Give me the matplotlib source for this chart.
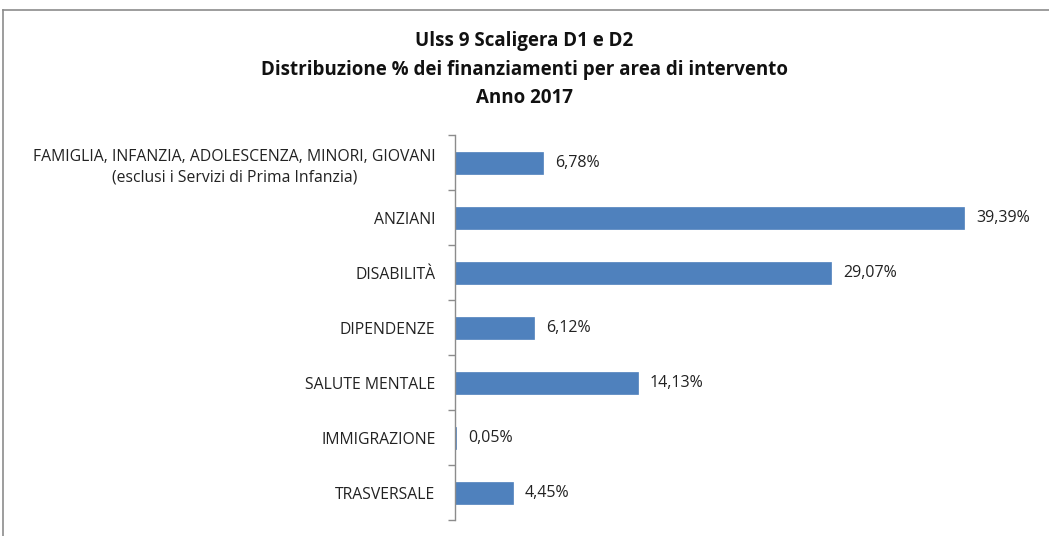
import matplotlib
matplotlib.use("Agg")
import matplotlib.pyplot as plt
from matplotlib.lines import Line2D

categories = [
    "FAMIGLIA, INFANZIA, ADOLESCENZA, MINORI, GIOVANI\n(esclusi i Servizi di Prima Infanzia)",
    "ANZIANI",
    "DISABILITÀ",
    "DIPENDENZE",
    "SALUTE MENTALE",
    "IMMIGRAZIONE",
    "TRASVERSALE",
]
values = [6.78, 39.39, 29.07, 6.12, 14.13, 0.05, 4.45]
title_lines = ["Ulss 9 Scaligera D1 e D2",
               "Distribuzione % dei finanziamenti per area di intervento",
               "Anno 2017"]

plt.rcParams['font.family'] = ['Open Sans', 'DejaVu Sans']

W, H = 1049, 536
fig = plt.figure(figsize=(W / 100, H / 100), dpi=100)
fig.patch.set_facecolor("white")

# outer chart border
fig.add_artist(Line2D([3 / W, 3 / W], [0, 1 - 10 / H], color="#8c8c8c", lw=1.2, transform=fig.transFigure))
fig.add_artist(Line2D([3 / W, 1], [1 - 10 / H, 1 - 10 / H], color="#8c8c8c", lw=1.2, transform=fig.transFigure))

left = 455 / W
bottom = 1 - 520 / H
top = 1 - 135 / H
ax = fig.add_axes([left, bottom, 998 / W - left, top - bottom])

n = len(categories)
ypos = list(range(n))
ax.barh(ypos, values, height=0.4, color="#4F81BD", edgecolor="#4F81BD", linewidth=0.5)
ax.set_ylim(n - 0.5, -0.5)
ax.set_xlim(0, 42)

for y, v in zip(ypos, values):
    ax.text(v + 0.95, y, f"{v:.2f}%".replace(".", ","), va="center", ha="left", fontsize=11.5, color="#222222")

ax.set_yticks(ypos)
ax.set_yticklabels(categories, fontsize=11.3, multialignment="center", color="#222222", linespacing=1.4)
ax.tick_params(axis="y", which="major", length=0, pad=14)
ax.set_yticks([i - 0.5 for i in range(n + 1)], minor=True)
ax.tick_params(axis="y", which="minor", length=5, width=1, color="#8c8c8c", direction="out")
ax.set_xticks([])

for s in ["top", "right", "bottom"]:
    ax.spines[s].set_visible(False)
ax.spines["left"].set_color("#8c8c8c")
ax.spines["left"].set_linewidth(1)

ys = [1 - 41 / H, 1 - 70 / H, 1 - 98 / H]
for t, y in zip(title_lines, ys):
    fig.text(0.5, y, t, ha="center", va="center", fontsize=13.5, fontweight="bold", color="#111111")

fig.savefig("out.png", dpi=100)
